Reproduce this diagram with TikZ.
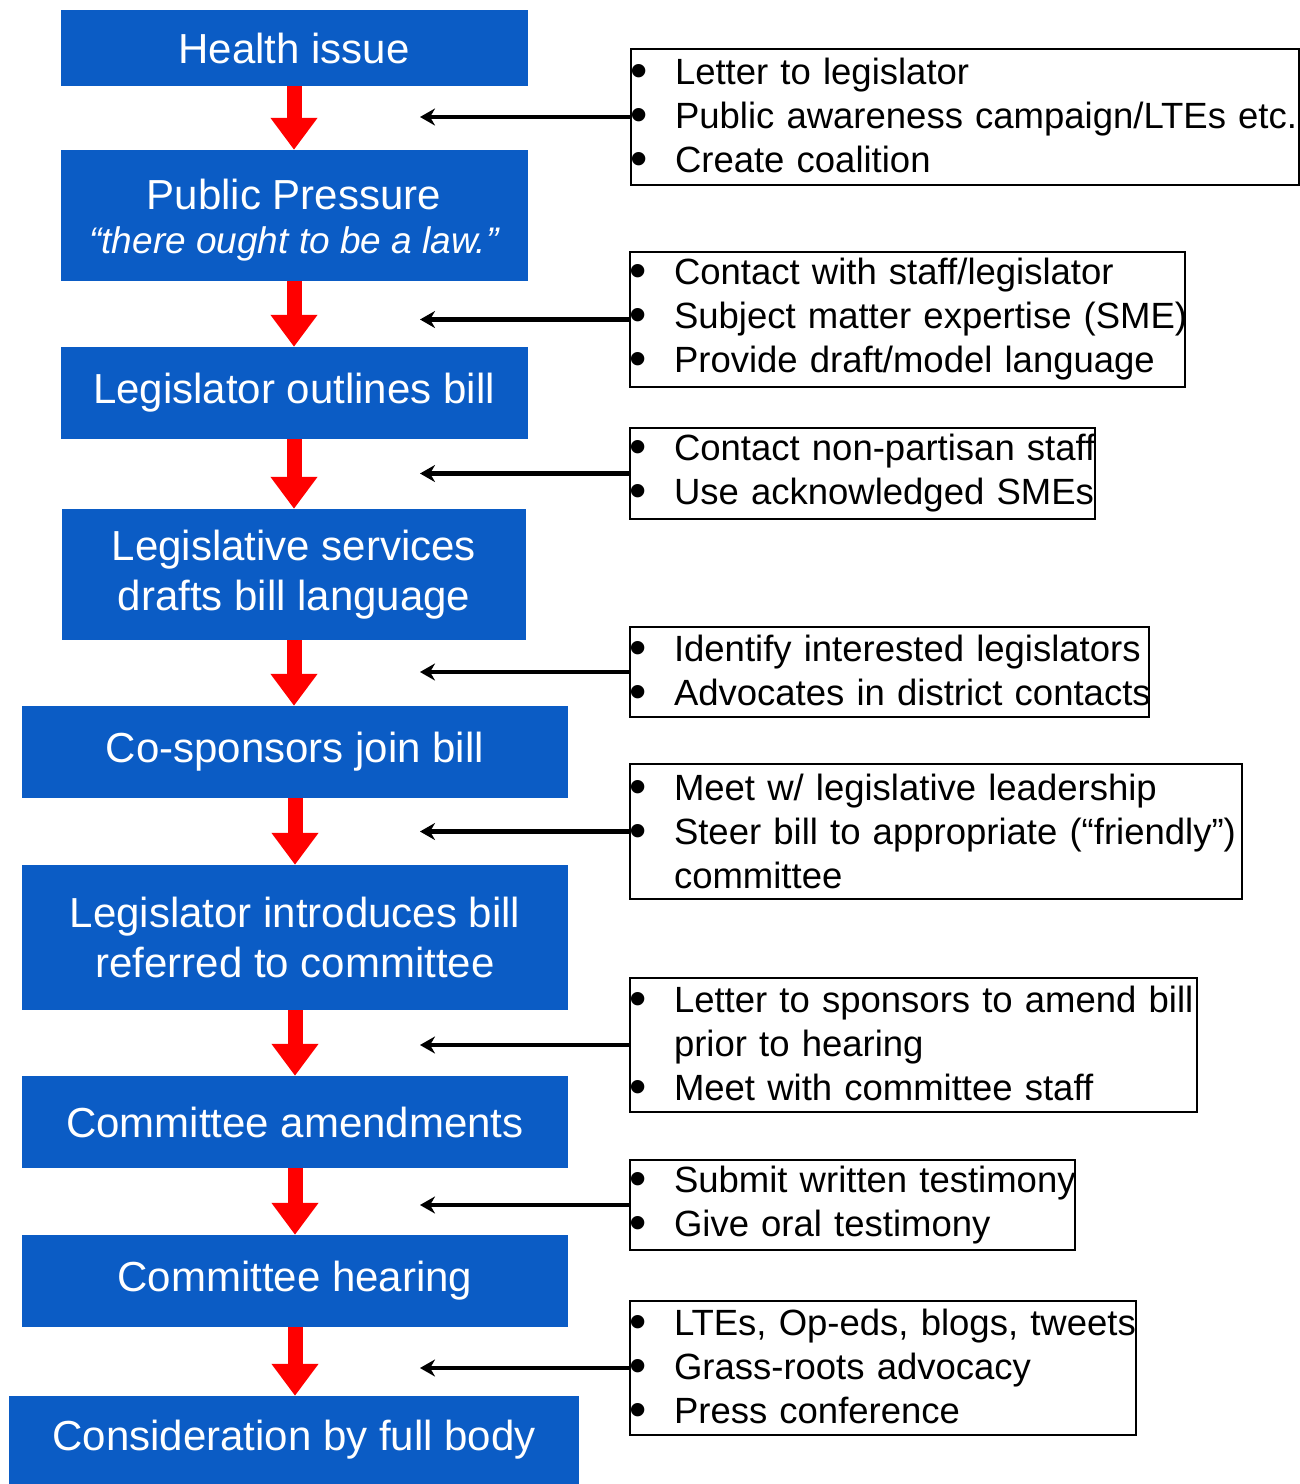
\documentclass[tikz,border=0pt]{standalone}
\usepackage{fontspec}
\setmainfont{Liberation Sans}
\usepackage{graphicx}
\usepackage{tikz}
\usetikzlibrary{arrows.meta}

\definecolor{stepblue}{HTML}{0B5CC5}
\newcommand{\bul}[1]{\mbox{\makebox[42pt][l]{\hspace*{-3pt}\raisebox{-3pt}{\scalebox{1.35}{\textbullet}}}#1}}
\newcommand{\cont}[1]{\mbox{\hspace*{42pt}#1}}

\begin{document}
\begin{tikzpicture}[x=1pt,y=-1pt]

	\tikzstyle stage=[fill=stepblue, text=white, align=center, inner sep=0pt, font=\fontsize{42}{50}\selectfont];
	\tikzstyle tips=[draw=black, line width=2pt, anchor=north west, align=left, inner xsep=2pt, inner ysep=0pt, font=\fontsize{36.5}{44}\selectfont];
	\tikzstyle stage arrow=[red, line width=15pt, -{Triangle[length=32pt,width=45pt]}];
	\tikzstyle tip arrow=[black, line width=4.5pt, -{Stealth[length=15pt,width=17pt]}];

	\useasboundingbox (0,0) rectangle (1300,1484);

	% main steps
	\node[stage, minimum width=467pt, minimum height=76pt] (health) at (294,48) {Health issue};
	\node[stage, minimum width=467pt, minimum height=131pt] (pressure) at (294,215.5) {\rule{0pt}{39pt}Public Pressure\\[-6pt] {\fontsize{37}{44}\selectfont\itshape “there ought to be a law.”}};
	\node[stage, minimum width=467pt, minimum height=92pt] (outline) at (294,393) {Legislator outlines bill};
	\node[stage, minimum width=464pt, minimum height=131pt] (drafts) at (294,574.5) {Legislative services\\drafts bill language};
	\node[stage, minimum width=546pt, minimum height=92pt] (cosponsor) at (295,752) {Co-sponsors join bill};
	\node[stage, minimum width=546pt, minimum height=145pt] (introduce) at (295,937.5) {Legislator introduces bill\\referred to committee};
	\node[stage, minimum width=546pt, minimum height=92pt] (amend) at (295,1122) {Committee amendments};
	\node[stage, minimum width=546pt, minimum height=92pt] (hearing) at (295,1281) {Committee hearing};
	\node[stage, minimum width=570pt, minimum height=88pt] (fullbody) at (294,1440) {Consideration by full body};

	\draw[stage arrow] (health) -- (pressure);
	\draw[stage arrow] (pressure) -- (outline);
	\draw[stage arrow] (outline) -- (drafts);
	\draw[stage arrow] (drafts) -- (cosponsor.north -| drafts.south);
	\draw[stage arrow] (cosponsor) -- (introduce);
	\draw[stage arrow] (introduce) -- (amend);
	\draw[stage arrow] (amend) -- (hearing);
	\draw[stage arrow] (hearing.south) -- (fullbody.north -| hearing.south);

	% advocacy boxes
	\node[tips, text width=664pt, minimum height=136pt] (tipsa) at (630,48) {\bul{Letter to legislator}\\\bul{Public awareness campaign/LTEs etc.}\\\bul{Create coalition}};
	\node[tips, text width=551pt, minimum height=135pt] (tipsb) at (629,251) {\bul{Contact with staff/legislator}\\\bul{Subject matter expertise (SME)}\\\bul{Provide draft/model language}};
	\node[tips, text width=461pt, minimum height=91pt] (tipsc) at (629,427) {\bul{Contact non-partisan staff}\\\bul{Use acknowledged SMEs}};
	\node[tips, text width=515pt, minimum height=90pt] (tipsd) at (629,626) {\bul{Identify interested legislators}\\\bul{Advocates in district contacts}};
	\node[tips, text width=608pt, minimum height=135pt] (tipse) at (629,763) {\bul{Meet w/ legislative leadership}\\\bul{Steer bill to appropriate (“friendly”)}\\\cont{committee}};
	\node[tips, text width=563pt, minimum height=134pt] (tipsf) at (629,977) {\bul{Letter to sponsors to amend bill}\\\cont{prior to hearing}\\\bul{Meet with committee staff}};
	\node[tips, text width=441pt, minimum height=90pt] (tipsg) at (629,1159) {\bul{Submit written testimony}\\\bul{Give oral testimony}};
	\node[tips, text width=502pt, minimum height=134pt] (tipsh) at (629,1300) {\bul{LTEs, Op-eds, blogs, tweets}\\\bul{Grass-roots advocacy}\\\bul{Press conference}};

	\coordinate (tipcol) at (420,0);
	\foreach \t in {tipsa,tipsb,tipsc,tipsd,tipse,tipsf,tipsg,tipsh}
		\draw[tip arrow] (\t.west) -- (\t.west -| tipcol);

\end{tikzpicture}
\end{document}
